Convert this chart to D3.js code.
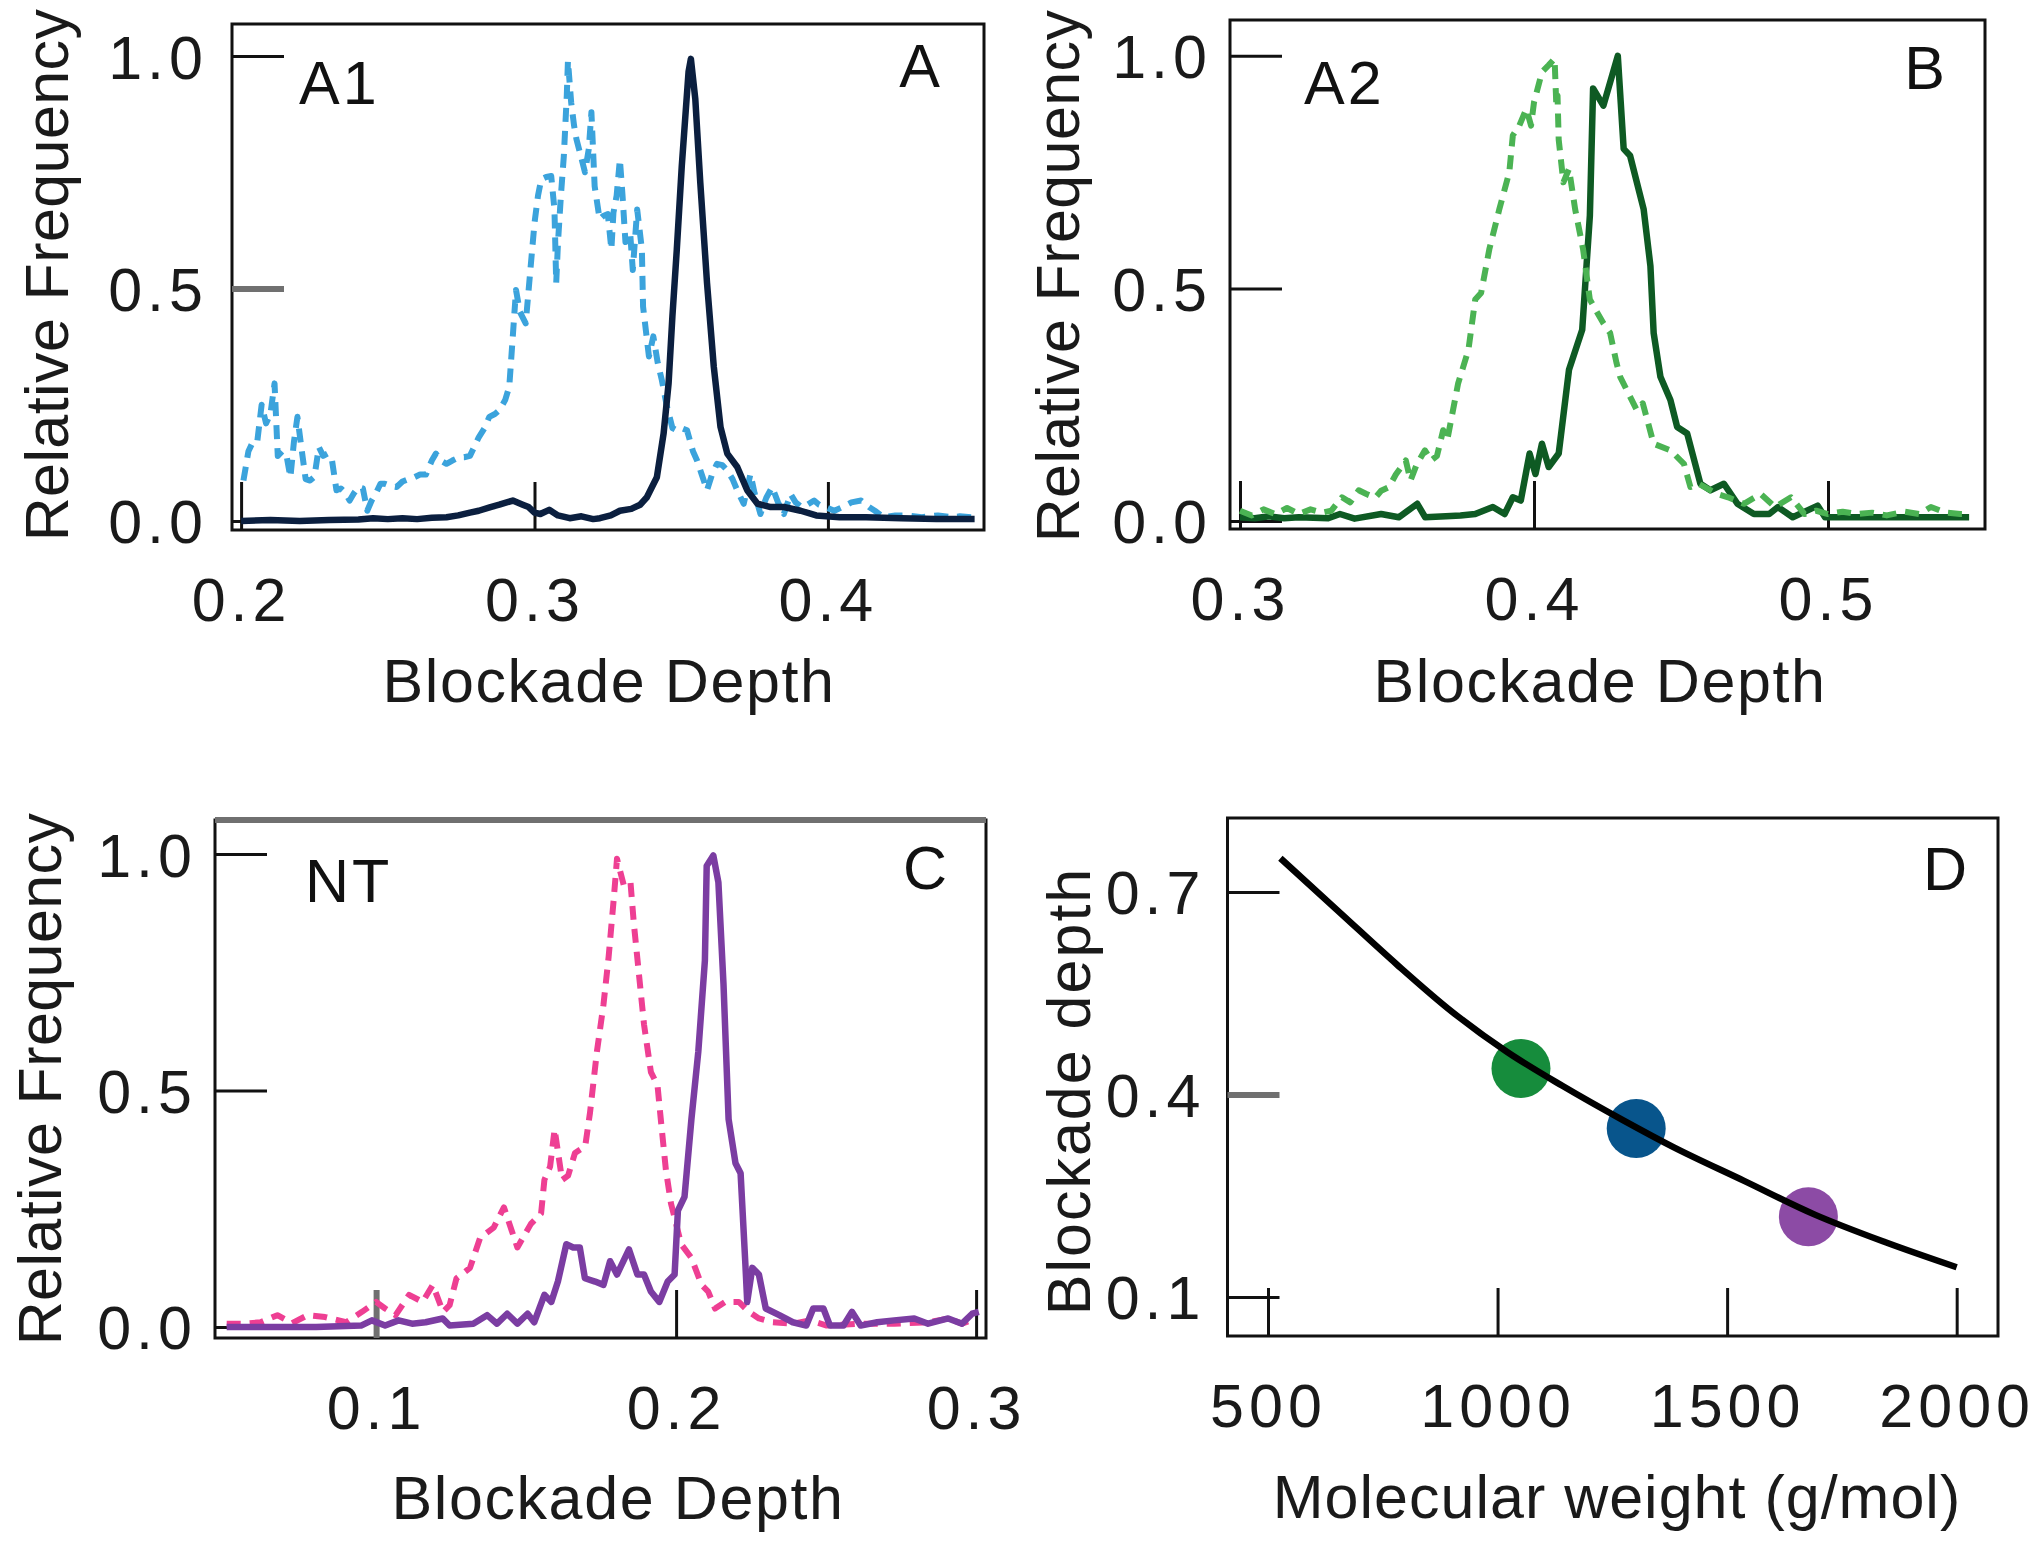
<!DOCTYPE html>
<html>
<head>
<meta charset="utf-8">
<script src="https://cdn.jsdelivr.net/npm/d3@7"></script>
<style>
  html, body { margin: 0; padding: 0; background: #fff; }
  svg { display: block; }
</style>
</head>
<body>
<svg id="chart" width="2040" height="1544"></svg>
<script>
// ---------------- DATA ----------------
// Panel A (A1) - dashed light blue histogram
const aDashDepth = [0.2008,0.2025,0.2040,0.2055,0.2070,0.2085,0.2100,0.2114,0.2125,0.2140,0.2155,0.2168,0.2180,0.2192,0.2205,0.2220,0.2235,0.2250,0.2265,0.2280,0.2295,0.2310,0.2325,0.2340,0.2356,0.2370,0.2385,0.2400,0.2415,0.2430,0.2445,0.2460,0.2475,0.2490,0.2510,0.2530,0.2550,0.2570,0.2590,0.2610,0.2630,0.2650,0.2664,0.2680,0.2700,0.2720,0.2743,0.2760,0.2780,0.2795,0.2810,0.2830,0.2846,0.2865,0.2880,0.2900,0.2914,0.2926,0.2937,0.2950,0.2970,0.2983,0.3000,0.3012,0.3023,0.3040,0.3057,0.3068,0.3074,0.3080,0.3090,0.3100,0.3110,0.3114,0.3125,0.3135,0.3143,0.3160,0.3172,0.3185,0.3194,0.3200,0.3205,0.3222,0.3234,0.3250,0.3262,0.3269,0.3280,0.3291,0.3300,0.3310,0.3326,0.3335,0.3350,0.3366,0.3370,0.3390,0.3405,0.3420,0.3434,0.3450,0.3470,0.3485,0.3500,0.3520,0.3540,0.3554,0.3570,0.3588,0.3605,0.3622,0.3640,0.3657,0.3675,0.3691,0.3713,0.3736,0.3750,0.3770,0.3790,0.3810,0.3830,0.3850,0.3873,0.3890,0.3910,0.3930,0.3953,0.3970,0.3990,0.4022,0.4050,0.4080,0.4113,0.4140,0.4160,0.4190,0.4230,0.4272,0.4320,0.4375,0.4420,0.4450,0.4490];
const aDashFreq  = [0.087,0.150,0.170,0.170,0.250,0.210,0.230,0.296,0.140,0.150,0.140,0.094,0.170,0.224,0.160,0.090,0.087,0.095,0.159,0.140,0.145,0.130,0.066,0.070,0.060,0.044,0.060,0.073,0.070,0.022,0.044,0.060,0.080,0.080,0.075,0.073,0.085,0.090,0.094,0.100,0.100,0.130,0.145,0.130,0.123,0.130,0.137,0.137,0.140,0.160,0.180,0.200,0.224,0.230,0.238,0.260,0.289,0.397,0.497,0.450,0.425,0.519,0.641,0.700,0.735,0.740,0.742,0.670,0.512,0.598,0.700,0.785,0.915,0.990,0.900,0.850,0.821,0.780,0.750,0.800,0.879,0.792,0.720,0.649,0.656,0.660,0.584,0.663,0.700,0.778,0.700,0.600,0.620,0.540,0.670,0.584,0.461,0.354,0.397,0.340,0.303,0.250,0.200,0.195,0.200,0.195,0.150,0.130,0.100,0.066,0.100,0.123,0.120,0.109,0.090,0.066,0.037,0.101,0.060,0.015,0.050,0.073,0.040,0.015,0.058,0.040,0.030,0.035,0.044,0.035,0.030,0.022,0.030,0.040,0.044,0.030,0.022,0.008,0.012,0.012,0.008,0.012,0.008,0.010,0.008];
// Panel A - solid navy histogram
const aSolidDepth = [0.2000,0.2100,0.2200,0.2300,0.2400,0.2450,0.2500,0.2550,0.2600,0.2650,0.2700,0.2740,0.2780,0.2810,0.2850,0.2880,0.2926,0.2960,0.2980,0.3000,0.3020,0.3050,0.3080,0.3120,0.3160,0.3200,0.3223,0.3260,0.3291,0.3330,0.3360,0.3383,0.3417,0.3440,0.3457,0.3470,0.3485,0.3502,0.3525,0.3533,0.3548,0.3565,0.3588,0.3611,0.3634,0.3657,0.3691,0.3725,0.3760,0.3805,0.3850,0.3907,0.3960,0.4040,0.4130,0.4250,0.4370,0.4500];
const aSolidFreq  = [0.000,0.002,0.000,0.002,0.003,0.006,0.004,0.006,0.004,0.007,0.008,0.012,0.018,0.022,0.030,0.035,0.044,0.035,0.030,0.018,0.015,0.024,0.012,0.006,0.010,0.004,0.006,0.012,0.022,0.026,0.035,0.051,0.094,0.188,0.296,0.440,0.584,0.764,0.966,0.994,0.908,0.728,0.512,0.332,0.202,0.145,0.116,0.066,0.037,0.030,0.030,0.022,0.012,0.008,0.008,0.006,0.004,0.004];

// Panel B (A2) - dashed light green histogram
const bDashDepth = [0.3000,0.3040,0.3080,0.3120,0.3160,0.3200,0.3240,0.3280,0.3310,0.3347,0.3375,0.3404,0.3430,0.3460,0.3480,0.3507,0.3530,0.3564,0.3580,0.3600,0.3629,0.3650,0.3670,0.3691,0.3705,0.3742,0.3777,0.3800,0.3820,0.3848,0.3882,0.3916,0.3928,0.3950,0.3974,0.3990,0.4000,0.4027,0.4050,0.4070,0.4076,0.4080,0.4084,0.4100,0.4119,0.4140,0.4167,0.4190,0.4236,0.4259,0.4281,0.4293,0.4350,0.4370,0.4407,0.4464,0.4510,0.4532,0.4560,0.4623,0.4660,0.4714,0.4771,0.4820,0.4874,0.4920,0.4960,0.5000,0.5050,0.5100,0.5150,0.5200,0.5260,0.5310,0.5350,0.5400,0.5450,0.5480];
const bDashFreq  = [0.022,0.012,0.025,0.015,0.028,0.015,0.025,0.018,0.022,0.051,0.040,0.066,0.058,0.050,0.065,0.073,0.100,0.130,0.087,0.120,0.152,0.130,0.140,0.195,0.174,0.296,0.368,0.476,0.490,0.584,0.670,0.750,0.829,0.850,0.886,0.850,0.900,0.965,0.980,0.994,0.893,0.915,0.820,0.728,0.757,0.670,0.584,0.476,0.425,0.404,0.339,0.310,0.238,0.253,0.166,0.152,0.123,0.073,0.080,0.058,0.051,0.037,0.058,0.030,0.051,0.015,0.022,0.015,0.020,0.015,0.018,0.012,0.020,0.015,0.030,0.018,0.015,0.015];
// Panel B - solid dark green histogram
const bSolidDepth = [0.3000,0.3050,0.3100,0.3150,0.3200,0.3300,0.3340,0.3390,0.3480,0.3540,0.3603,0.3630,0.3700,0.3750,0.3800,0.3860,0.3900,0.3928,0.3955,0.3985,0.4005,0.4027,0.4050,0.4084,0.4119,0.4164,0.4190,0.4201,0.4236,0.4285,0.4305,0.4327,0.4373,0.4396,0.4407,0.4430,0.4464,0.4487,0.4521,0.4566,0.4600,0.4646,0.4692,0.4748,0.4800,0.4830,0.4880,0.4965,0.4990,0.5100,0.5250,0.5400,0.5480];
const bSolidFreq  = [0.008,0.006,0.010,0.006,0.008,0.006,0.015,0.005,0.015,0.008,0.037,0.008,0.010,0.012,0.015,0.030,0.015,0.051,0.044,0.145,0.101,0.166,0.116,0.145,0.325,0.411,0.656,0.930,0.893,1.000,0.800,0.785,0.670,0.548,0.404,0.310,0.260,0.202,0.188,0.080,0.066,0.080,0.037,0.015,0.015,0.030,0.008,0.033,0.008,0.008,0.008,0.008,0.008];

// Panel C (NT) - dashed pink histogram
const cDashDepth = [0.0502,0.0560,0.0615,0.0671,0.0720,0.0772,0.0830,0.0900,0.0953,0.1000,0.1030,0.1065,0.1110,0.1155,0.1189,0.1223,0.1245,0.1268,0.1313,0.1347,0.1392,0.1426,0.1471,0.1516,0.1550,0.1561,0.1580,0.1595,0.1620,0.1640,0.1663,0.1697,0.1713,0.1736,0.1758,0.1775,0.1792,0.1803,0.1826,0.1848,0.1859,0.1876,0.1893,0.1916,0.1938,0.1949,0.1966,0.1983,0.2017,0.2051,0.2085,0.2107,0.2130,0.2164,0.2209,0.2243,0.2276,0.2321,0.2389,0.2445,0.2502,0.2615,0.2727,0.2840,0.2908,0.2953,0.2998];
const cDashFreq  = [0.007,0.007,0.010,0.025,0.008,0.025,0.021,0.010,0.032,0.053,0.039,0.025,0.068,0.053,0.089,0.032,0.046,0.103,0.125,0.189,0.210,0.253,0.168,0.218,0.240,0.311,0.339,0.418,0.311,0.320,0.368,0.382,0.453,0.582,0.682,0.782,0.904,0.990,0.933,0.940,0.854,0.747,0.640,0.539,0.511,0.439,0.332,0.261,0.175,0.146,0.089,0.075,0.039,0.053,0.053,0.032,0.018,0.010,0.007,0.014,0.003,0.007,0.007,0.010,0.018,0.007,0.018];
// Panel C - solid purple histogram
const cSolidDepth = [0.0502,0.0600,0.0800,0.0950,0.0986,0.1030,0.1075,0.1120,0.1165,0.1222,0.1245,0.1324,0.1370,0.1403,0.1437,0.1471,0.1505,0.1527,0.1561,0.1584,0.1606,0.1634,0.1657,0.1679,0.1696,0.1730,0.1758,0.1780,0.1803,0.1843,0.1871,0.1893,0.1916,0.1944,0.1972,0.1995,0.2006,0.2028,0.2051,0.2074,0.2096,0.2102,0.2124,0.2141,0.2158,0.2175,0.2198,0.2215,0.2231,0.2237,0.2254,0.2276,0.2299,0.2344,0.2389,0.2434,0.2457,0.2491,0.2513,0.2558,0.2586,0.2615,0.2670,0.2727,0.2794,0.2840,0.2907,0.2953,0.2987,0.3009];
const cSolidFreq  = [0.000,0.000,0.000,0.003,0.014,0.003,0.014,0.007,0.010,0.018,0.003,0.007,0.025,0.007,0.028,0.007,0.028,0.010,0.068,0.053,0.096,0.175,0.168,0.168,0.103,0.096,0.089,0.139,0.111,0.164,0.111,0.111,0.075,0.053,0.096,0.111,0.246,0.275,0.439,0.582,0.775,0.975,0.997,0.940,0.725,0.439,0.346,0.325,0.132,0.053,0.125,0.111,0.039,0.025,0.010,0.003,0.039,0.039,0.003,0.003,0.032,0.003,0.010,0.014,0.018,0.007,0.018,0.007,0.028,0.032];

// Panel D - fitted curve and the three measured points
const fitWeight = [527,659,780,900,1021,1142,1273,1383,1537,1691,1845,2000];
const fitDepth  = [0.750,0.668,0.593,0.523,0.463,0.4125,0.362,0.322,0.272,0.222,0.181,0.144];
const pointNames  = ["A2","A1","NT"];
const pointWeight = [1051,1302,1677];
const pointDepth  = [0.4385,0.3496,0.219];

// Tick values
const freqTicks = [0, 0.5, 1.0];
const xTicksA = [0.2, 0.3, 0.4];
const xTicksB = [0.3, 0.4, 0.5];
const xTicksC = [0.1, 0.2, 0.3];
const xTicksD = [500, 1000, 1500, 2000];
const yTicksD = [0.1, 0.4, 0.7];

// ---------------- DRAWING ----------------
const FONT = "'Liberation Sans', Arial, Helvetica, sans-serif";
const FS = 61;
const svg = d3.select("#chart");
svg.append("rect").attr("width", 2040).attr("height", 1544).attr("fill", "#fff");

const zip = (xs, ys) => xs.map((x, i) => [x, ys[i]]);

const panels = [
  { frame:{l:232,t:24,r:984,b:530}, xLim:[0.1969,0.4532], yLim:[-0.0194,1.069],
    xTicks:xTicksA, yTicks:freqTicks, yFmt:d3.format(".1f"), xFmt:d3.format(".1f"),
    xTitle:{t:"Blockade Depth", x:609, y:702, ls:1.6}, yTitle:{t:"Relative Frequency", x:68, y:275, ls:0.4},
    tags:[{t:"A1",x:299,y:104,a:"start"},{t:"A",x:943,y:87,a:"end"}],
    grayY:[0.5], grayX:[], yPad:24,
    series:[
      {d:zip(aDashDepth,aDashFreq), c:"#3ba3dc", dash:"14,9"},
      {d:zip(aSolidDepth,aSolidFreq), c:"#0b1f3f"}
    ]},
  { frame:{l:1230,t:20,r:1985,b:529}, xLim:[0.2966,0.5534], yLim:[-0.0172,1.077],
    xTicks:xTicksB, yTicks:freqTicks, yFmt:d3.format(".1f"), xFmt:d3.format(".1f"),
    xTitle:{t:"Blockade Depth", x:1600, y:702, ls:1.6}, yTitle:{t:"Relative Frequency", x:1079, y:276, ls:0.4},
    tags:[{t:"A2",x:1304,y:104,a:"start"},{t:"B",x:1948,y:89,a:"end"}],
    grayY:[], grayX:[], yPad:18,
    series:[
      {d:zip(bSolidDepth,bSolidFreq), c:"#0e5a23"},
      {d:zip(bDashDepth,bDashFreq), c:"#4bb353", dash:"14,9"}
    ]},
  { frame:{l:215,t:820,r:986,b:1338}, xLim:[0.0463,0.3033], yLim:[-0.0233,1.072],
    xTicks:xTicksC, yTicks:freqTicks, yFmt:d3.format(".1f"), xFmt:d3.format(".1f"),
    xTitle:{t:"Blockade Depth", x:618, y:1519, ls:1.6}, yTitle:{t:"Relative Frequency", x:61, y:1079, ls:0.4},
    tags:[{t:"NT",x:305,y:902,a:"start"},{t:"C",x:950,y:889,a:"end"}],
    grayY:[], grayX:[0.1], grayTop:true, yPad:18,
    series:[
      {d:zip(cDashDepth,cDashFreq), c:"#ee3f93", dash:"14,9"},
      {d:zip(cSolidDepth,cSolidFreq), c:"#7b3da2"}
    ]},
  { frame:{l:1227.5,t:818,r:1998,b:1336}, xLim:[411.8,2090], yLim:[0.0422,0.8096],
    xTicks:xTicksD, yTicks:yTicksD, yFmt:d3.format(".1f"), xFmt:d3.format("d"),
    xTitle:{t:"Molecular weight (g/mol)", x:1617, y:1518, ls:1.0}, yTitle:{t:"Blockade depth", x:1090, y:1091, ls:2},
    tags:[{t:"D",x:1970,y:890,a:"end"}],
    grayY:[0.4], grayX:[], yPad:22, isD:true, series:[] }
];

panels.forEach(p => {
  const f = p.frame;
  const x = d3.scaleLinear().domain(p.xLim).range([f.l, f.r]);
  const y = d3.scaleLinear().domain(p.yLim).range([f.b, f.t]);
  const g = svg.append("g");

  // frame
  g.append("rect").attr("x", f.l).attr("y", f.t).attr("width", f.r - f.l).attr("height", f.b - f.t)
    .attr("fill", "none").attr("stroke", "#111").attr("stroke-width", 3);
  if (p.grayTop) {
    g.append("line").attr("x1", f.l).attr("x2", f.r).attr("y1", f.t).attr("y2", f.t)
      .attr("stroke", "#707070").attr("stroke-width", 6);
  }

  // y axis (inward ticks)
  const ya = g.append("g").attr("transform", `translate(${f.l},0)`)
    .call(d3.axisLeft(y).tickValues(p.yTicks).tickSize(-52).tickPadding(p.yPad).tickFormat(p.yFmt));
  // x axis (inward ticks)
  const xa = g.append("g").attr("transform", `translate(0,${f.b})`)
    .call(d3.axisBottom(x).tickValues(p.xTicks).tickSize(-48).tickPadding(48).tickFormat(p.xFmt));

  [ya, xa].forEach(a => {
    a.select(".domain").remove();
    a.selectAll(".tick line").attr("stroke", "#111").attr("stroke-width", 3);
    a.selectAll(".tick text").attr("font-family", FONT).attr("font-size", FS)
      .attr("fill", "#1a1a1a").style("letter-spacing", "5px");
  });
  ya.selectAll(".tick text").attr("dy", "0.36em");
  ya.selectAll(".tick line").filter(d => p.grayY.includes(d))
    .attr("stroke", "#707070").attr("stroke-width", 6);
  xa.selectAll(".tick line").filter(d => p.grayX.includes(d))
    .attr("stroke", "#707070").attr("stroke-width", 6);

  // series
  const line = d3.line().x(d => x(d[0])).y(d => y(d[1]));
  p.series.forEach(s => {
    g.append("path").attr("d", line(s.d)).attr("fill", "none")
      .attr("stroke", s.c).attr("stroke-width", s.dash ? 6 : 6.5)
      .attr("stroke-linejoin", "round")
      .attr("stroke-dasharray", s.dash || null);
  });

  if (p.isD) {
    const colors = ["#168c3c", "#08558c", "#8c4ba5"];
    g.selectAll("circle.pt").data(pointWeight).enter().append("circle")
      .attr("class", "pt")
      .attr("cx", (d) => x(d)).attr("cy", (d, i) => y(pointDepth[i]))
      .attr("r", 29.5).attr("fill", (d, i) => colors[i]);
    const fit = d3.line().x(d => x(d[0])).y(d => y(d[1])).curve(d3.curveMonotoneX);
    g.append("path").attr("d", fit(zip(fitWeight, fitDepth))).attr("fill", "none")
      .attr("stroke", "#000").attr("stroke-width", 6.5);
  }

  // titles
  g.append("text").attr("x", p.xTitle.x).attr("y", p.xTitle.y).attr("text-anchor", "middle")
    .attr("font-family", FONT).attr("font-size", FS).attr("fill", "#1a1a1a")
    .style("letter-spacing", p.xTitle.ls + "px").text(p.xTitle.t);
  g.append("text").attr("transform", `translate(${p.yTitle.x},${p.yTitle.y}) rotate(-90)`)
    .attr("text-anchor", "middle")
    .attr("font-family", FONT).attr("font-size", FS).attr("fill", "#1a1a1a")
    .style("letter-spacing", p.yTitle.ls + "px").text(p.yTitle.t);
  p.tags.forEach(t => {
    g.append("text").attr("x", t.x).attr("y", t.y).attr("text-anchor", t.a)
      .attr("font-family", FONT).attr("font-size", FS).attr("fill", "#111")
      .style("letter-spacing", "3px").text(t.t);
  });
});
</script>
</body>
</html>
